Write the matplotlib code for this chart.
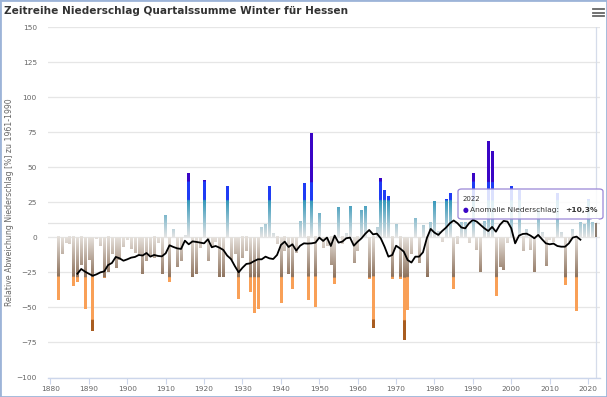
import numpy as np
import matplotlib.pyplot as plt
from matplotlib.colors import to_rgb
from matplotlib.patches import Rectangle, FancyBboxPatch, Polygon
from matplotlib.lines import Line2D

# winter precipitation anomaly, Hessen, % relative to 1961-1990
years = np.arange(1882, 2023)
anomaly = [
    -45, -12, -4, -5, -35, -32, -20, -51, -16, -67,          # 1882-1891
    -1, -6, -29, -25, -12, -22, -16, -7, -2, -8,             # 1892-1901
    -11, -12, -26, -17, -14, -15, -4, -26, 15, -32,          # 1902-1911
    5.5, -21, -17, 1, 45, -28, -26, -7.5, 40, -17,           # 1912-1921
    -7, -3, -28, -28, 36, -16, -12, -44, -15, -10,           # 1922-1931
    -39, -54, -51, 7, 9, 36, 2.5, -5, -47, -10,              # 1932-1941
    -26, -37, -11, 11, 38, -45, 74, -50, 17, -7.5,           # 1942-1951
    -6, -20, -33, 21, -5, 2.5, 22, -18.5, -10, 19,           # 1952-1961
    22, -29.5, -65, 6.5, 41.5, 33, 29, -30, 9, -30,          # 1962-1971
    -73, -52, -12, 13.5, -18, 8, -28.6, 10, 25, 4,           # 1972-1981
    -3, 27, 31, -37, -5, 10, 10, -4, 45, -9,                 # 1982-1991
    -24.5, 11, 68, 61, -42, -21, -23, -4, 36, -4,            # 1992-2001
    33, -10, 5, -9, -25, 19.5, 3, -20.5, -2, -3,             # 2002-2011
    31, 3, -34, -3, 5, -52.6, 10, 9, 27, 10,                 # 2012-2021
    10.3,                                                    # 2022
]

# running mean (black line)
mean_years = np.arange(1887, 2019)
mean_vals = [
    -26, -22.6, -24.5, -26, -27.4, -26.4, -25, -24.3, -19.8, -18.3,      # 1887-1896
    -14, -15, -16.7, -15.7, -14.5, -14, -12.6, -13, -11.2, -13.8,        # 1897-1906
    -12.6, -13.3, -13.6, -11.4, -5.7, -6.9, -7.9, -8.3, -2.4, -5,        # 1907-1916
    -2.9, -3.3, -3.8, -4.3, -1.4, -7.1, -6.2, -7.4, -9, -13,             # 1917-1926
    -15.5, -20.5, -25, -21.7, -19, -18.6, -17, -15.7, -15.7, -13.8,      # 1927-1936
    -15, -15.5, -12.6, -5.5, -3.1, -6.9, -5, -9.5, -6, -4.3,             # 1937-1946
    -4.5, -4.3, -3.8, -0.2, -2.6, -0.2, -6.2, 1.2, -3.8, -3.1,           # 1947-1956
    -0.7, -0.2, -6, -3.1, -0.7, 2.6, 5.2, 2.1, 2.6, -0.7,                # 1957-1966
    -6.7, -13.8, -12.6, -6, -7.9, -10.2, -16.2, -18, -13.8, -13.8,       # 1967-1976
    -10.7, -0.7, 6, 3.3, 1.7, 4.5, 6.9, 10, 12, 10,                      # 1977-1986
    7, 6.4, 10, 12.4, 11.2, 8.8, 6.4, 4.5, 7.4, 4,                       # 1987-1996
    8.8, 11.7, 11.2, 6.4, -4.3, 1.2, 2.4, 2.6, 1.2, -0.7,                # 1997-2006
    1.7, -1.4, -4.3, -5, -4.5, -6.2, -6.7, -6.7, -4.3, -0.2,             # 2007-2016
    0.5, -1.7,                                                           # 2017-2018
]

yticks = np.arange(-100, 151, 25)
xticks = np.arange(1880, 2021, 10)

W, H = 607, 397
fig = plt.figure(figsize=(W / 100, H / 100), dpi=100)
ax = fig.add_axes([48 / W, (H - 377.5) / H, 552 / W, 350.5 / H])

light = np.array(to_rgb('#e4e4e4'))
teal = np.array(to_rgb('#3297ba'))
blue = np.array(to_rgb('#1f3cf5'))
purple = np.array(to_rgb('#3a05c6'))
light_n = np.array(to_rgb('#e6e1dc'))
brown = np.array(to_rgb('#8d715b'))
orange = np.array(to_rgb('#f9a057'))
dark = np.array(to_rgb('#a95d20'))


def level_color(lv):
    if lv >= 0:
        if lv <= 26:
            t = lv / 26
            return light * (1 - t) + teal * t
        if lv <= 39:
            return blue
        return purple
    d = -lv
    if d <= 28.6:
        t = d / 28.6
        return light_n * (1 - t) + brown * t
    if d <= 59:
        return orange
    return dark


bw = 0.66
for yr, v in zip(years, anomaly):
    if yr == 2022:
        ax.bar(yr, v, width=bw, color='#8a7c6f', zorder=2)
        continue
    n = max(int(abs(v) * 4), 2)
    lv = np.linspace(0, v, n)
    img = np.array([level_color(l) for l in lv]).reshape(n, 1, 3)
    if v >= 0:
        ext = [yr - bw / 2, yr + bw / 2, 0, v]
        ax.imshow(img, extent=ext, origin='lower', aspect='auto',
                  interpolation='bilinear', zorder=2)
    else:
        ext = [yr - bw / 2, yr + bw / 2, v, 0]
        ax.imshow(img[::-1], extent=ext, origin='lower', aspect='auto',
                  interpolation='bilinear', zorder=2)

ax.plot(mean_years, mean_vals, color='black', lw=1.3, zorder=3)

# crosshairs for the hovered point
ax.axhline(10.3, color='#e3e3e3', lw=0.9, zorder=1)
ax.axvline(2022, color='#d5dcea', lw=0.9, zorder=1)

ax.set_xlim(1879.35, 2023.1)
ax.set_ylim(-100, 150)
ax.set_yticks(yticks)
ax.set_xticks(xticks)
ax.grid(axis='y', color='#e6e6e6', lw=0.9)
ax.set_axisbelow(True)
for s in ['top', 'right', 'left']:
    ax.spines[s].set_visible(False)
ax.spines['bottom'].set_color('#ccd6eb')
ax.spines['bottom'].set_linewidth(1)
ax.tick_params(axis='y', length=0, pad=8, labelsize=5.3, labelcolor='#666666')
ax.tick_params(axis='x', length=4, width=0.8, color='#ccd6eb', pad=2,
               labelsize=5.3, labelcolor='#666666')
ax.set_ylabel('Relative Abweichung Niederschlag [%] zu 1961-1990',
              fontsize=5.6, color='#666666', labelpad=6)
ax.yaxis.set_label_coords(-31 / 552 - 0.005, 0.5)

# tooltip
tx0, ty0, tw, th = 458, 189, 145, 30
box = FancyBboxPatch((tx0 / W, 1 - (ty0 + th) / H), tw / W, th / H,
                     boxstyle='round,pad=0,rounding_size=0.006',
                     transform=fig.transFigure, facecolor=(1, 1, 1, 0.85),
                     edgecolor='#9a86d6', lw=0.9, zorder=10)
fig.patches.append(box)
tri = Polygon([[(591) / W, 1 - (ty0 + th) / H], [599 / W, 1 - (ty0 + th) / H],
               [596 / W, 1 - (ty0 + th + 4) / H]], closed=True,
              transform=fig.transFigure, facecolor='white', edgecolor='none',
              zorder=11)
fig.patches.append(tri)
fig.text(463 / W, 1 - 199 / H, '2022', fontsize=5.0, color='#333333',
         va='center', ha='left', zorder=12)
fig.text(463 / W, 1 - 210 / H, '\u25cf', fontsize=4.8, color='#3a05c6',
         va='center', ha='left', zorder=12)
fig.text(470 / W, 1 - 210 / H, 'Anomalie Niederschlag:', fontsize=5.4,
         color='#333333', va='center', ha='left', zorder=12)
fig.text(598 / W, 1 - 210 / H, '+10,3%', fontsize=5.4, color='#333333',
         fontweight='bold', va='center', ha='right', zorder=12)

# title and menu icon
fig.text(4 / W, 1 - 11 / H, 'Zeitreihe Niederschlag Quartalssumme Winter für Hessen',
         fontsize=7.6, fontweight='bold', color='#333333', va='center', ha='left')
for yy in (9, 12.5, 16):
    fig.add_artist(Line2D([593 / W, 604 / W], [1 - yy / H, 1 - yy / H],
                          color='#666666', lw=1.3, transform=fig.transFigure))

fig.patches.append(Rectangle((0, 0), 1, 1, transform=fig.transFigure,
                             fill=False, edgecolor='#9db4d8', lw=2, zorder=20))

fig.savefig('out.png', dpi=100)
